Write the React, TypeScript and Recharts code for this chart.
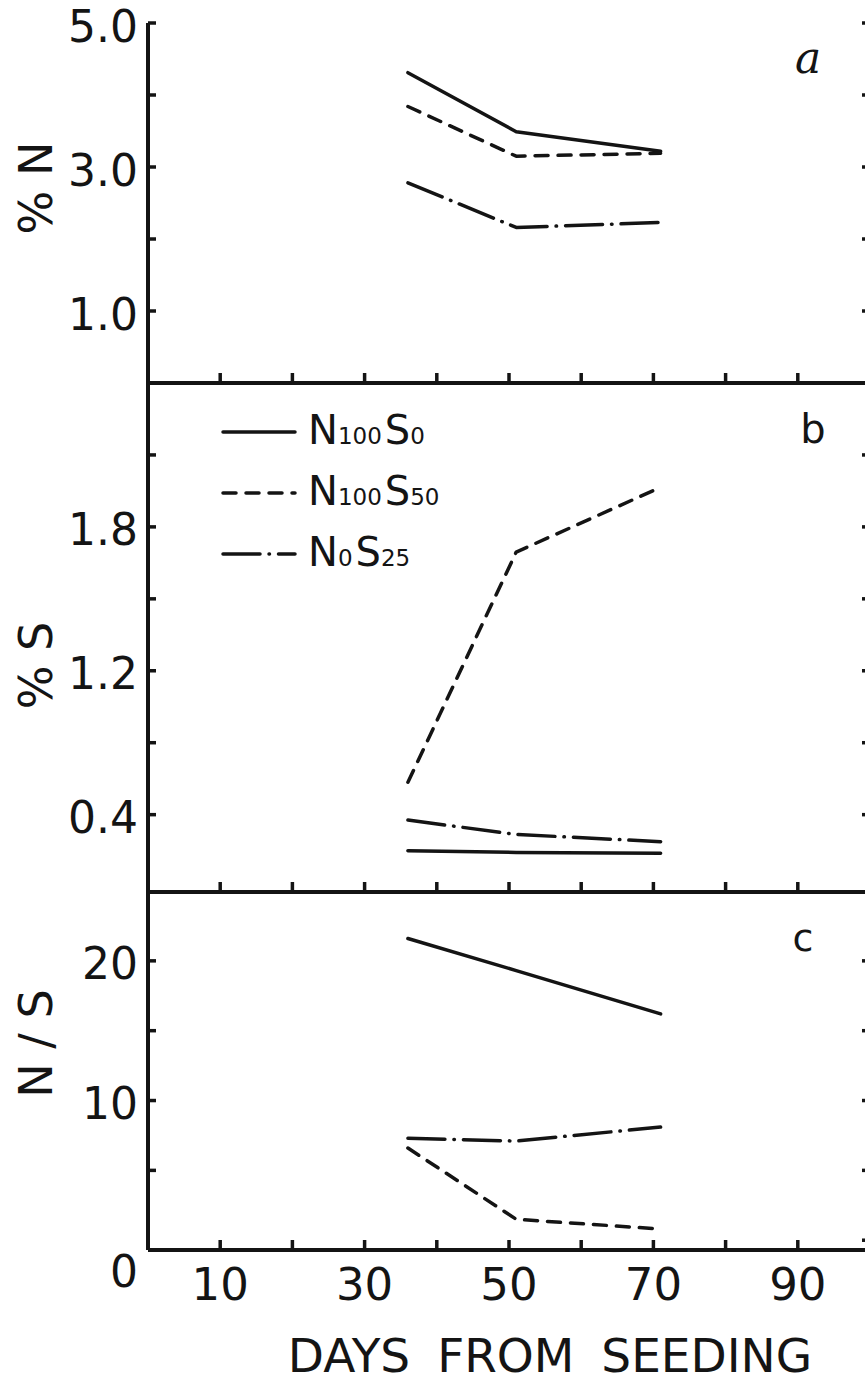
import { LineChart, Line, XAxis, YAxis, Legend } from "recharts";

// sampling days (x)
const DAYS = [36, 51, 71];

// % N (panel a)
const N_PCT_N100S0 = [4.31, 3.49, 3.22];
const N_PCT_N100S50 = [3.84, 3.15, 3.19];
const N_PCT_N0S25 = [2.78, 2.16, 2.23];

// % S (panel b)
const S_PCT_N100S0 = [0.2, 0.19, 0.186];
const S_PCT_N100S50 = [0.58, 1.86, 2.22];
const S_PCT_N0S25 = [0.37, 0.29, 0.25];

// N/S ratio (panel c)
const NS_N100S0 = [21.6, 19.3, 16.2];
const NS_N100S50 = [6.6, 1.5, 0.8];
const NS_N0S25 = [7.3, 7.1, 8.1];

// axis ticks + printed labels
const X_TICKS = [10, 20, 30, 40, 50, 60, 70, 80, 90];
const X_LABELS = ["10", "", "30", "", "50", "", "70", "", "90"];
const N_TICKS = [1, 2, 3, 4, 5];
const N_LABELS = ["1.0", "", "3.0", "", "5.0"];
const S_TICKS = [0.4, 0.8, 1.2, 1.6, 2.0, 2.4];
const S_LABELS = ["0.4", "", "1.2", "", "1.8", ""];
const NS_TICKS = [0, 5, 10, 15, 20];
const NS_LABELS = ["0", "", "10", "", "20"];

const SERIES = [
  { key: "n100s0", n: "100", s: "0", dash: undefined },
  { key: "n100s50", n: "100", s: "50", dash: "13 10" },
  { key: "n0s25", n: "0", s: "25", dash: "37 9 0.5 9" },
];

const INK = "#141414";
const FONT = "'DejaVu Sans', Verdana, sans-serif";

const rows = (a: number[], b: number[], c: number[]) =>
  DAYS.map((day, i) => ({ day, n100s0: a[i], n100s50: b[i], n0s25: c[i] }));

function YTitle({ viewBox, text, shift }: any) {
  const cx = viewBox.x + 36;
  const cy = viewBox.y + viewBox.height / 2 + shift;
  return (
    <text
      x={cx}
      y={cy}
      transform={`rotate(-90 ${cx} ${cy})`}
      textAnchor="middle"
      dominantBaseline="central"
      fontSize={46}
      fontFamily={FONT}
      fill={INK}
    >
      {text}
    </text>
  );
}

function XTitle({ viewBox }: any) {
  return (
    <text
      x={viewBox.x + viewBox.width / 2 + 41}
      y={viewBox.y + 105}
      textAnchor="middle"
      dominantBaseline="central"
      fontSize={47}
      wordSpacing={12}
      fontFamily={FONT}
      fill={INK}
    >
      DAYS FROM SEEDING
    </text>
  );
}

// left-axis tick: inward mark + label; a 0 label sits under the corner with no mark
function YTick({ x, y, payload, ticks, labels }: any) {
  const v = payload.value;
  const label = labels[ticks.indexOf(v)] ?? "";
  const axisX = x + 10;
  const zero = v === 0;
  return (
    <g>
      {!zero && (
        <line x1={axisX} x2={axisX + 8} y1={y} y2={y} stroke={INK} strokeWidth={3.5} />
      )}
      <text
        x={x}
        y={zero ? y + 31 : y + 3}
        textAnchor="end"
        dominantBaseline="central"
        fontSize={44}
        fontFamily={FONT}
        fill={INK}
      >
        {label}
      </text>
    </g>
  );
}

function SeriesKey() {
  return (
    <svg width={280} height={190}>
      {SERIES.map((s, i) => {
        const y = 30 + i * 61;
        return (
          <g key={s.key}>
            <line
              x1={8}
              x2={80}
              y1={y}
              y2={y}
              stroke={INK}
              strokeWidth={3.5}
              strokeLinecap="round"
              strokeDasharray={s.dash}
            />
            <text x={93} y={y + 12} fontFamily={FONT} fill={INK}>
              <tspan fontSize={40}>N</tspan>
              <tspan fontSize={23}>{s.n}</tspan>
              <tspan fontSize={40} dx={3}>S</tspan>
              <tspan fontSize={23}>{s.s}</tspan>
            </text>
          </g>
        );
      })}
    </svg>
  );
}

type PanelProps = {
  top: number;
  height: number;
  marginTop: number;
  xHeight: number;
  data: any[];
  domain: [number, number];
  ticks: number[];
  labels: string[];
  title: string;
  titleShift: number;
  xLabels?: boolean;
  topBorder?: boolean;
  legend?: boolean;
};

function Panel(p: PanelProps) {
  const axisLine = { stroke: INK, strokeWidth: 4 };
  const tickLine = { stroke: INK, strokeWidth: 3.5 };
  return (
    <div style={{ position: "absolute", left: 0, top: p.top }}>
      <LineChart
        width={900}
        height={p.height}
        data={p.data}
        margin={{ top: p.marginTop, right: 0, bottom: 0, left: 0 }}
      >
        {p.topBorder && (
          <XAxis
            xAxisId="top"
            orientation="top"
            dataKey="day"
            type="number"
            domain={[0, 100]}
            height={0}
            tick={false}
            tickLine={false}
            axisLine={axisLine}
          />
        )}
        <XAxis
          dataKey="day"
          type="number"
          domain={[0, 100]}
          allowDataOverflow
          ticks={X_TICKS}
          interval={0}
          height={p.xHeight}
          tickSize={-10}
          tickMargin={28}
          axisLine={axisLine}
          tickLine={tickLine}
          tick={{ fontSize: 45, fill: INK, fontFamily: FONT }}
          tickFormatter={(v) => (p.xLabels ? X_LABELS[X_TICKS.indexOf(v)] ?? "" : "")}
          label={p.xLabels ? { content: (lp: any) => <XTitle {...lp} /> } : undefined}
        />
        <YAxis
          yAxisId="l"
          type="number"
          domain={p.domain}
          allowDataOverflow
          ticks={p.ticks}
          interval={0}
          width={148}
          tickSize={-8}
          tickMargin={18}
          axisLine={axisLine}
          tickLine={false}
          tick={(tp: any) => <YTick {...tp} ticks={p.ticks} labels={p.labels} />}
          label={{
            content: (lp: any) => <YTitle {...lp} text={p.title} shift={p.titleShift} />,
          }}
        />
        <YAxis
          yAxisId="r"
          orientation="right"
          type="number"
          domain={p.domain}
          allowDataOverflow
          ticks={p.ticks.filter((t) => t > p.domain[0] + 0.01)}
          interval={0}
          width={30}
          tickSize={-8}
          axisLine={axisLine}
          tickLine={tickLine}
          tickFormatter={() => ""}
        />
        {p.legend && (
          <Legend
            layout="horizontal"
            verticalAlign="middle"
            align="center"
            wrapperStyle={{ left: 215, top: 29, width: 280, height: 190 }}
            content={() => <SeriesKey />}
          />
        )}
        {SERIES.map((s) => (
          <Line
            key={s.key}
            yAxisId="l"
            dataKey={s.key}
            stroke={INK}
            strokeWidth={3.5}
            strokeDasharray={s.dash}
            strokeLinecap="round"
            strokeLinejoin="round"
            dot={false}
            activeDot={false}
            isAnimationActive={false}
            legendType="none"
          />
        ))}
      </LineChart>
    </div>
  );
}

const letter = (left: number, top: number, size: number, italic = false) => ({
  position: "absolute" as const,
  left,
  top,
  transform: "translateX(-50%)",
  fontSize: size,
  lineHeight: 1,
  fontFamily: italic ? "'DejaVu Serif', serif" : FONT,
  fontStyle: italic ? "italic" : "normal",
  color: INK,
});

export default function App() {
  return (
    <div
      style={{
        position: "absolute",
        left: 0,
        top: 0,
        width: 865,
        height: 1384,
        overflow: "hidden",
        background: "#fff",
      }}
    >
      <Panel
        top={0}
        height={400}
        marginTop={23}
        xHeight={17}
        data={rows(N_PCT_N100S0, N_PCT_N100S50, N_PCT_N0S25)}
        domain={[0, 5]}
        ticks={N_TICKS}
        labels={N_LABELS}
        title="% N"
        titleShift={-15}
        topBorder
      />
      <Panel
        top={373}
        height={536}
        marginTop={10}
        xHeight={17}
        data={rows(S_PCT_N100S0, S_PCT_N100S50, S_PCT_N0S25)}
        domain={[-0.03, 2.8]}
        ticks={S_TICKS}
        labels={S_LABELS}
        title="% S"
        titleShift={28}
        legend
      />
      <Panel
        top={881}
        height={503}
        marginTop={10}
        xHeight={134}
        data={rows(NS_N100S0, NS_N100S50, NS_N0S25)}
        domain={[-0.7, 25]}
        ticks={NS_TICKS}
        labels={NS_LABELS}
        title="N / S"
        titleShift={-27}
        xLabels
      />
      <div style={letter(808, 36, 44, true)}>a</div>
      <div style={letter(813, 409, 40)}>b</div>
      <div style={letter(803, 919, 38)}>c</div>
    </div>
  );
}
